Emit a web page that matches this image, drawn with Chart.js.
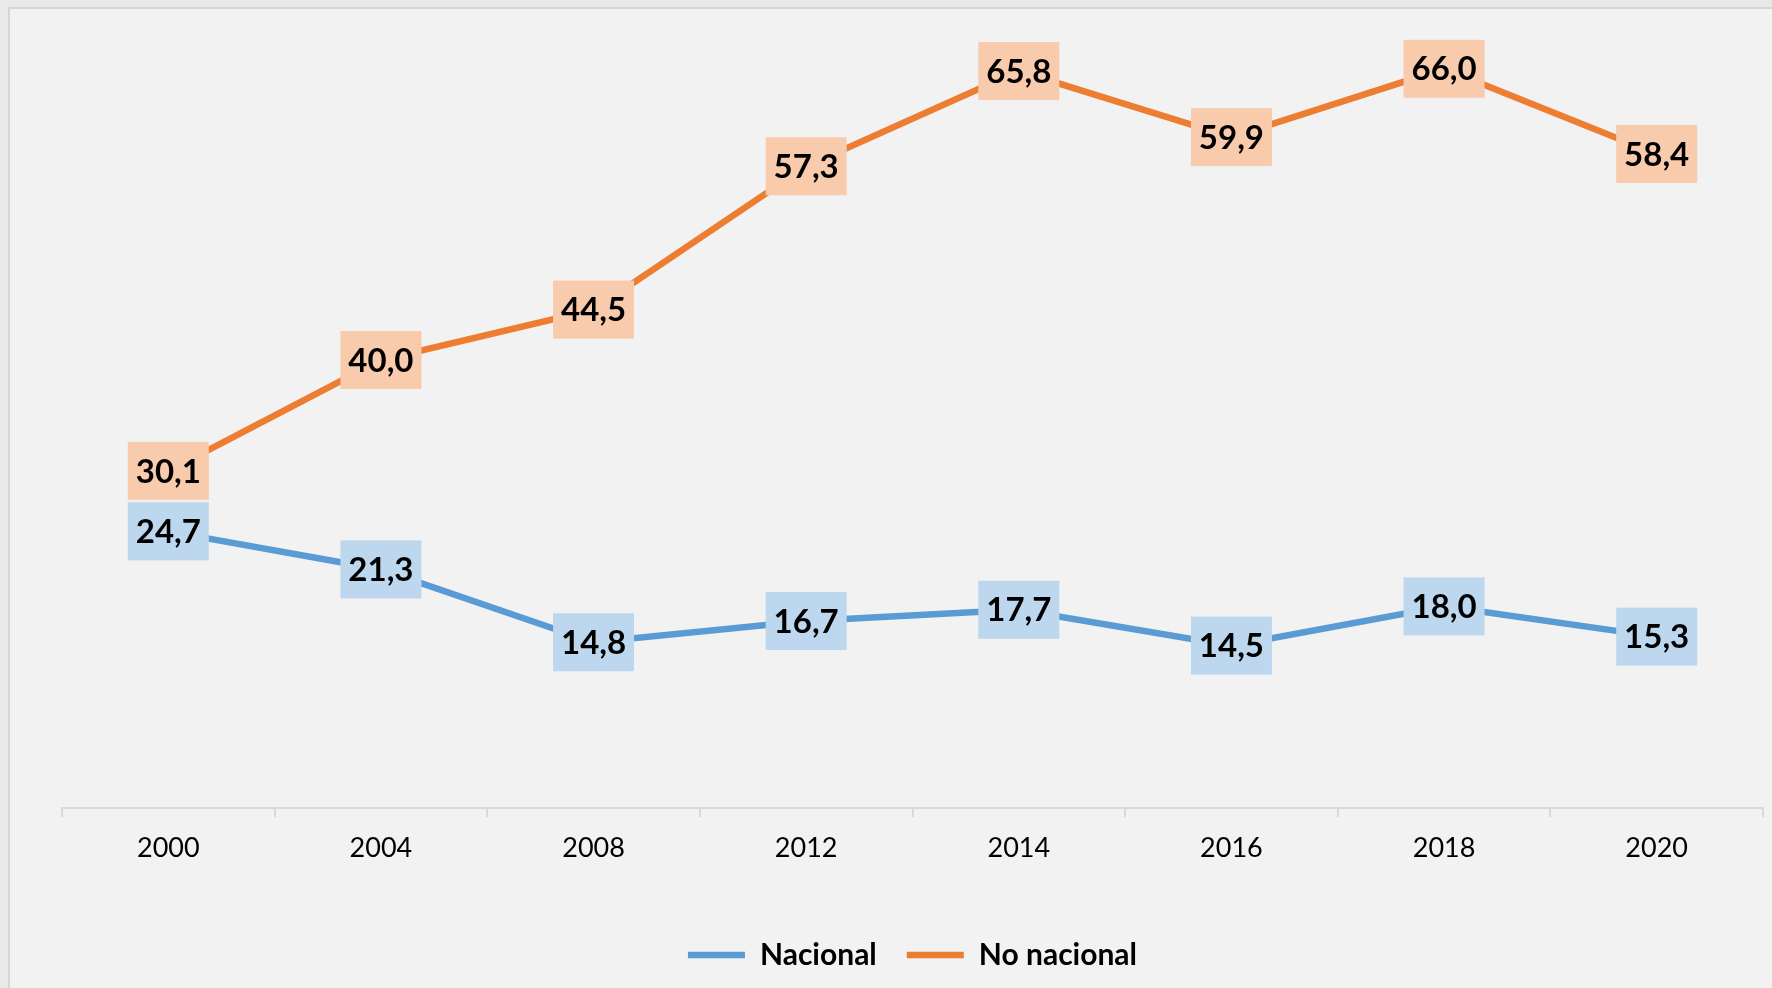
<!DOCTYPE html>
<html>
<head>
<meta charset="utf-8">
<script src="https://cdn.jsdelivr.net/npm/chart.js@4/dist/chart.umd.min.js"></script>
<style>
  html, body { margin: 0; padding: 0; }
  body { width: 1772px; height: 988px; background: #e9e9e9; position: relative; overflow: hidden; }
  #frame { position: absolute; left: 8px; top: 7px; right: 0; bottom: 0; background: #f2f2f2; border-top: 2px solid #d6d6d6; border-left: 2px solid #d6d6d6; }
  #chart { position: absolute; left: 0; top: 0; }
</style>
</head>
<body>
<div id="frame"></div>
<canvas id="chart" width="1772" height="988"></canvas>
<script>
const years = ["2000", "2004", "2008", "2012", "2014", "2016", "2018", "2020"];
const nacional = [24.7, 21.3, 14.8, 16.7, 17.7, 14.5, 18.0, 15.3];
const noNacional = [30.1, 40.0, 44.5, 57.3, 65.8, 59.9, 66.0, 58.4];
const seriesNames = ["Nacional", "No nacional"];
const lineColors = ["#5b9bd5", "#ed7d31"];
const boxColors = ["#bdd7ee", "#f8cbad"];

const chartCanvas = document.getElementById("chart");

// boxed value labels drawn on top of the lines
const valueBoxes = {
  id: "valueBoxes",
  afterDatasetsDraw(chart) {
    const ctx = chart.ctx;
    ctx.save();
    ctx.font = "bold 33px Lato";
    ctx.textAlign = "center";
    ctx.textBaseline = "middle";
    chart.data.datasets.forEach((dataset, i) => {
      const meta = chart.getDatasetMeta(i);
      meta.data.forEach((point, j) => {
        const w = 81;
        const h = 58;
        ctx.fillStyle = boxColors[i];
        ctx.fillRect(point.x - w / 2, point.y - h / 2, w, h);
        ctx.fillStyle = "#000000";
        const text = dataset.data[j].toFixed(1).replace(".", ",");
        ctx.fillText(text, point.x, point.y + 1);
      });
    });
    ctx.restore();
  },
};

new Chart(chartCanvas, {
  type: "line",
  data: {
    labels: years,
    datasets: [
      {
        label: seriesNames[0],
        data: nacional,
        borderColor: lineColors[0],
        backgroundColor: lineColors[0],
        borderWidth: 6.5,
        borderCapStyle: "round",
        pointRadius: 0,
        tension: 0,
      },
      {
        label: seriesNames[1],
        data: noNacional,
        borderColor: lineColors[1],
        backgroundColor: lineColors[1],
        borderWidth: 6.5,
        borderCapStyle: "round",
        pointRadius: 0,
        tension: 0,
      },
    ],
  },
  options: {
    responsive: false,
    devicePixelRatio: 1,
    animation: false,
    layout: {
      padding: { left: 62, right: 9, top: 24, bottom: 8 },
    },
    plugins: {
      tooltip: { enabled: false },
      legend: {
        position: "bottom",
        labels: {
          usePointStyle: true,
          pointStyle: "line",
          pointStyleWidth: 57,
          padding: 30,
          color: "#000000",
          font: { family: "Lato", size: 30, weight: "bold" },
        },
      },
    },
    scales: {
      x: {
        offset: true,
        afterFit(scale) {
          scale.height = 102;
        },
        border: { display: true, color: "#d9d9d9", width: 2 },
        grid: {
          offset: true,
          drawOnChartArea: false,
          drawTicks: true,
          tickLength: 9,
          color: "#d9d9d9",
          lineWidth: 2,
        },
        ticks: {
          color: "#000000",
          padding: 15,
          font: { family: "Lato", size: 27 },
        },
      },
      y: {
        display: false,
        min: 0,
        max: 70,
      },
    },
  },
  plugins: [valueBoxes],
});
</script>
</body>
</html>
